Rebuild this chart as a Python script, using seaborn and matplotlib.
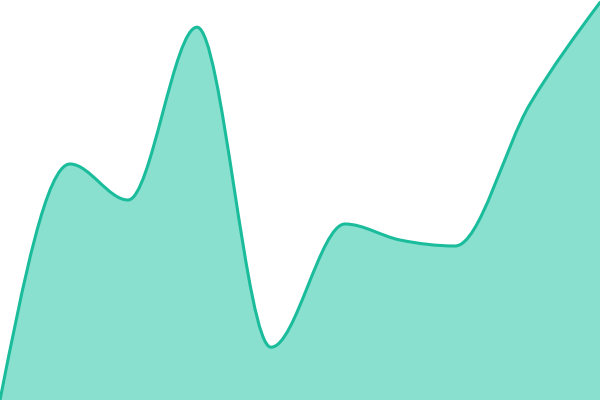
import numpy as np
import matplotlib
matplotlib.use("Agg")
import matplotlib.pyplot as plt
from matplotlib.path import Path
from matplotlib.patches import PathPatch
import seaborn as sns

# ---- data ----
x_positions = [0, 70, 128, 197, 271, 345, 400, 455, 530, 600]
values = [0, 59, 50, 93.2, 13.2, 44, 40, 38.5, 74, 99.4]

line_color = "#1abc9c"
fill_color = "#8ae0cf"

sns.set_theme(style="white")


def monotone_tangents(x, y):
    """d3 curveMonotoneX style tangents."""
    x = np.asarray(x, float)
    y = np.asarray(y, float)
    n = len(x)
    h = np.diff(x)
    s = np.diff(y) / h
    t = np.zeros(n)
    for i in range(1, n - 1):
        h0, h1 = h[i - 1], h[i]
        s0, s1 = s[i - 1], s[i]
        p = (s0 * h1 + s1 * h0) / (h0 + h1)
        t[i] = (np.sign(s0) + np.sign(s1)) * min(abs(s0), abs(s1), 0.5 * abs(p))
    t[0] = (3 * s[0] - t[1]) / 2
    t[-1] = (3 * s[-1] - t[-2]) / 2
    return t


def smooth_path(x, y, close_to=None):
    t = monotone_tangents(x, y)
    verts = [(x[0], y[0])]
    codes = [Path.MOVETO]
    for i in range(len(x) - 1):
        dx = (x[i + 1] - x[i]) / 3
        verts += [(x[i] + dx, y[i] + dx * t[i]),
                  (x[i + 1] - dx, y[i + 1] - dx * t[i + 1]),
                  (x[i + 1], y[i + 1])]
        codes += [Path.CURVE4] * 3
    if close_to is not None:
        verts += [(x[-1], close_to), (x[0], close_to), (x[0], y[0])]
        codes += [Path.LINETO, Path.LINETO, Path.CLOSEPOLY]
    return Path(verts, codes)


fig = plt.figure(figsize=(6, 4), dpi=100)
ax = fig.add_axes([0, 0, 1, 1])

area = PathPatch(smooth_path(x_positions, values, close_to=-10),
                 facecolor=fill_color, edgecolor="none", zorder=1)
ax.add_patch(area)
line = PathPatch(smooth_path(x_positions, values),
                 facecolor="none", edgecolor=line_color, linewidth=2.2,
                 zorder=2, capstyle="round", joinstyle="round")
ax.add_patch(line)

ax.set_xlim(0, 600)
ax.set_ylim(0, 100)
ax.axis("off")
sns.despine(ax=ax, left=True, bottom=True)

fig.savefig("out.png", dpi=100)
